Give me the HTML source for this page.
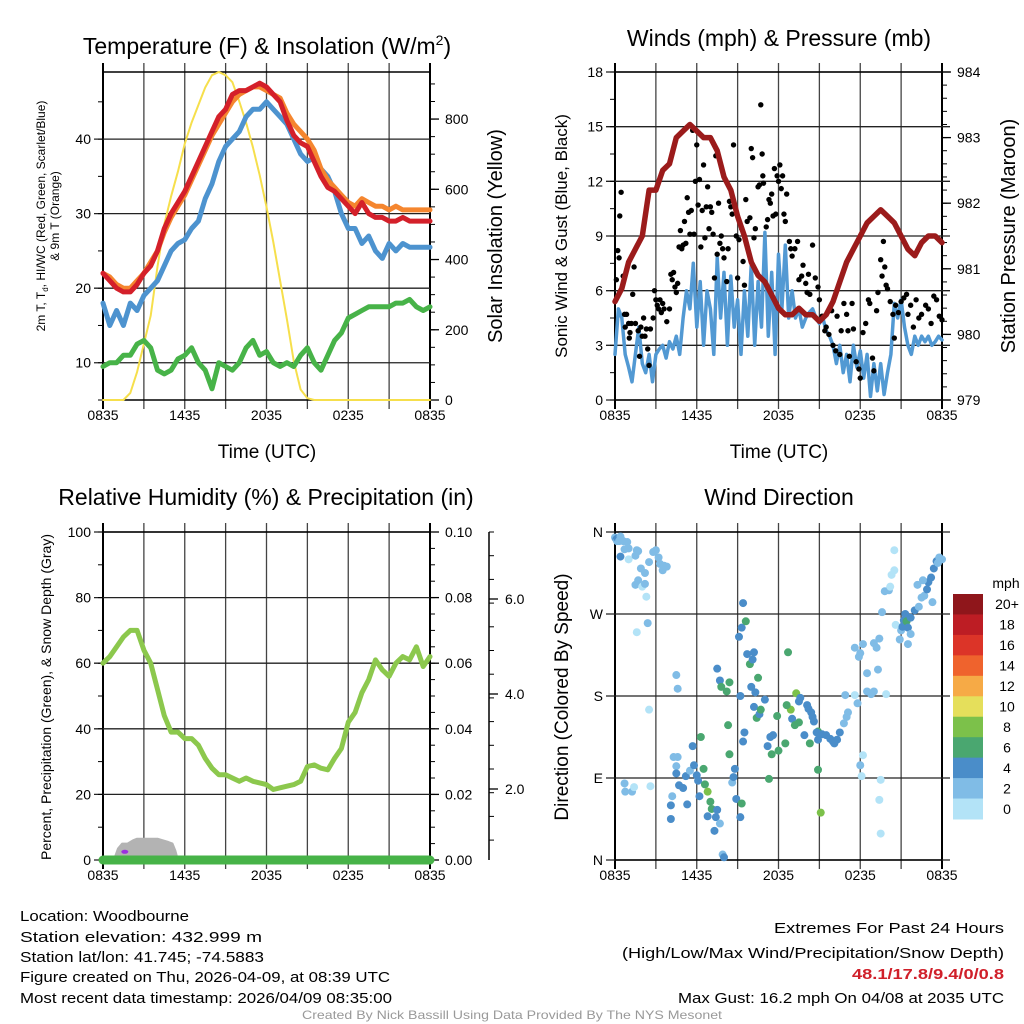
<!DOCTYPE html>
<html><head><meta charset="utf-8"><title>Mesonet Meteogram</title>
<style>
html,body{margin:0;padding:0;background:#fff;}
svg{display:block;font-family:"Liberation Sans",sans-serif;}
</style></head>
<body>
<svg id="chart" width="1024" height="1024" viewBox="0 0 1024 1024" xmlns="http://www.w3.org/2000/svg">
<rect width="1024" height="1024" fill="#fff"/>
<!-- titles -->
<text x="267" y="54" font-size="23" text-anchor="middle">Temperature (F) &amp; Insolation (W/m<tspan font-size="14" dy="-9">2</tspan><tspan dy="9">)</tspan></text>
<text x="779" y="46" font-size="23" text-anchor="middle">Winds (mph) &amp; Pressure (mb)</text>
<text x="266" y="505" font-size="23" text-anchor="middle">Relative Humidity (%) &amp; Precipitation (in)</text>
<text x="779" y="505" font-size="23" text-anchor="middle">Wind Direction</text>
<!-- axis titles -->
<text x="267" y="458" font-size="19" text-anchor="middle">Time (UTC)</text>
<text x="779" y="458" font-size="19" text-anchor="middle">Time (UTC)</text>
<text x="45" y="216" font-size="12" text-anchor="middle" transform="rotate(-90 45 216)">2m T, T<tspan font-size="8" dy="3">d</tspan><tspan dy="-3">, HI/WC (Red, Green, Scarlet/Blue)</tspan></text>
<text x="59" y="216" font-size="12" text-anchor="middle" transform="rotate(-90 59 216)">&amp; 9m T (Orange)</text>
<text x="502" y="236" font-size="20" text-anchor="middle" transform="rotate(-90 502 236)">Solar Insolation (Yellow)</text>
<text x="567" y="236" font-size="17" text-anchor="middle" transform="rotate(-90 567 236)">Sonic Wind &amp; Gust (Blue, Black)</text>
<text x="1015" y="236" font-size="20" text-anchor="middle" transform="rotate(-90 1015 236)">Station Pressure (Maroon)</text>
<text x="51" y="697" font-size="14" text-anchor="middle" transform="rotate(-90 51 697)">Percent, Precipitation (Green), &amp; Snow Depth (Gray)</text>
<text x="568" y="697" font-size="19" text-anchor="middle" transform="rotate(-90 568 697)">Direction (Colored By Speed)</text>
<!-- footer text -->
<g font-size="15">
<text x="20" y="921" textLength="169" lengthAdjust="spacingAndGlyphs">Location: Woodbourne</text>
<text x="20" y="942" textLength="242" lengthAdjust="spacingAndGlyphs">Station elevation: 432.999 m</text>
<text x="20" y="962" textLength="244" lengthAdjust="spacingAndGlyphs">Station lat/lon: 41.745; -74.5883</text>
<text x="20" y="982" textLength="370" lengthAdjust="spacingAndGlyphs">Figure created on Thu, 2026-04-09, at 08:39 UTC</text>
<text x="20" y="1003" textLength="372" lengthAdjust="spacingAndGlyphs">Most recent data timestamp: 2026/04/09 08:35:00</text>
</g>
<g font-size="15">
<text x="774" y="933" textLength="230" lengthAdjust="spacingAndGlyphs">Extremes For Past 24 Hours</text>
<text x="622" y="958" textLength="382" lengthAdjust="spacingAndGlyphs">(High/Low/Max Wind/Precipitation/Snow Depth)</text>
<text x="852" y="979" textLength="152" lengthAdjust="spacingAndGlyphs" fill="#d0202a" font-weight="bold">48.1/17.8/9.4/0/0.8</text>
<text x="678" y="1003" textLength="326" lengthAdjust="spacingAndGlyphs">Max Gust: 16.2 mph On 04/08 at 2035 UTC</text>
</g>
<text x="302" y="1019" font-size="12" fill="#999" textLength="420" lengthAdjust="spacingAndGlyphs">Created By Nick Bassill Using Data Provided By The NYS Mesonet</text>
</svg>
<script>
// ---------------- DATA ----------------
const xTickLabels = ['0835','1435','2035','0235','0835'];
const xTickHours = [0,6,12,18,24];
// half-hourly (49 values, 0..24h)
const tempRed = [22,21,20,19.5,19.5,20.5,22,23,25,28,30,31.5,33,35,37,39,41,43,44,46,46.5,46.5,47,47.5,47,46,45,42.5,40.5,39.5,39,37,35,33.5,33,32,31,30,31.5,30,29.5,29.5,29,29,29.5,29,29,29,29];
const tempOrange = [22,21.5,20.5,20,20,21,22,23.5,25,27.5,29.5,31,32.5,34.5,36.5,38.5,40.5,42,43.5,45,46,46.5,47,47,46.5,46,45.5,43.5,42,41,40,38.5,36,34.5,33.5,32.5,31.5,31,32,31.5,31,31,30.5,31,30.5,30.5,30.5,30.5,30.5];
const tempBlue = [18,15,17,15,18,17,19,20,21,23,25,26,26.5,28,29,32,34,37,39,40,41,43,44,44,45,44,43,42,40,38,37,37.5,36,35,33,30,28,28,26,27,25,24,26,25,26,25.5,25.5,25.5,25.5];
const dewpoint = [9.5,10,10,11,11,12.5,13,12,9,8.5,9,10.5,11,12,10,9,6.5,10,9.5,9,10,12,13,11,11.5,10,9.5,10,9.5,11,12,10,9,11,13,14,16,16.5,17,17.5,17.5,17.5,17.5,18,18,18.5,17.5,17,17.5];
const solar = [0,0,0,0,20,80,160,240,380,500,580,650,730,790,840,890,925,934,925,905,850,790,720,640,550,450,340,230,110,30,5,0,0,0,0,0,0,0,0,0,0,0,0,0,0,0,0,0,0];
const pressure = [980.5,980.7,981.1,981.3,981.5,982.2,982.2,982.5,982.6,983.0,983.1,983.2,983.1,983.0,983.0,982.8,982.4,982.2,981.8,981.5,981.1,980.9,980.8,980.6,980.4,980.3,980.3,980.4,980.3,980.3,980.2,980.3,980.5,980.8,981.1,981.3,981.5,981.7,981.8,981.9,981.8,981.7,981.5,981.3,981.2,981.4,981.5,981.5,981.4];
const relHum = [60,62,65,68,70,70,64,60,52,44,39,39,37,37,35,31,28,26,26,25,24,25,24,23.5,23,21.5,22,22.5,23,24,28.5,29,28,27.5,31,34,42,45,51,55,61,58,56,60,62,61,65,59,62];
// quarter-hourly (97 values)
const windSpeed = [2.5,5,4.5,2.5, 1.8,1,2.5,4, 2,1.5,2.5,1, 2.5,2.8,3,2.3, 3.2,2.8,3.5,2.5, 4.5,6,5,7.5, 4,6.5,3,6, 5,2.5,7.8,4.5, 7,3,6.8,4, 5.5,2.5,6,3.5, 7.5,3,6.5,4, 9.2,3.5,7,2.5, 8,5,8.5,4.5, 6,4.5,5,4, 4.5,4.8,5,4.5, 4.2,4.5,3.8,3.5, 3,2,3,1.5, 2.5,1,3,1.8, 2.7,1.2,2.5,0.2, 2,0.5,2,0.3, 1.5,2.5,5.3,4.5, 5.5,4,3,2.5, 3.5,3,3.5,3.2, 3.5,3,3.2,3.5, 3.3];
const gustHours = [0.1,0.2,0.3,0.35,0.45,0.6,0.7,0.75,0.85,1,1.05,1.1,1.2,1.3,1.4,1.5,1.7,1.8,1.9,2.0,2.1,2.2,2.3,2.4,2.5,2.6,2.8,2.9,3.0,3.1,3.2,3.3,3.4,3.5,3.6,3.8,4.0,4.1,4.2,4.3,4.4,4.5,4.6,4.7,4.8,4.9,5.0,5.1,5.2,5.3,5.4,5.5,5.6,5.7,5.8,5.9,6.0,6.1,6.2,6.3,6.4,6.5,6.6,6.7,6.8,6.9,7.0,7.1,7.2,7.3,7.4,7.5,7.6,7.7,7.8,7.9,8.0,8.2,8.3,8.4,8.5,8.6,8.7,8.9,9.0,9.1,9.3,9.4,9.5,9.6,9.7,9.9,10.0,10.1,10.2,10.3,10.5,10.6,10.7,10.8,10.85,10.9,11.1,11.2,11.3,11.4,11.5,11.6,11.7,11.8,11.9,12.0,12.1,12.2,12.3,12.4,12.5,12.6,12.8,12.9,13.0,13.2,13.4,13.5,13.7,13.8,14.0,14.1,14.2,14.3,14.5,14.7,14.9,15.0,15.2,15.4,15.5,15.7,15.9,16.0,16.2,16.3,16.5,16.6,16.8,17.0,17.1,17.2,17.4,17.5,17.7,17.9,18.0,18.2,18.4,18.6,18.7,18.9,19.0,19.2,19.3,19.5,19.6,19.7,19.8,19.9,20.0,20.2,20.4,20.5,20.6,20.8,21.0,21.2,21.4,21.5,21.7,21.9,22.1,22.3,22.5,22.8,23.0,23.2,23.4,23.6,23.8,24];
const gustValues = [6.6,8.2,7.8,10.1,11.4,6.8,4.7,4.0,4.7,4.2,3.4,3.7,4.2,5.8,7.3,4.2,3.8,2.4,4.0,3.5,4.5,3.5,3.9,2.8,1.9,3.9,4.5,6.0,5.5,5.2,5.0,5.5,4.8,5.3,5.0,4.3,5.0,6.9,6.6,7.0,6.2,5.9,6.4,8.4,9.3,8.3,8.5,9.8,8.6,11.1,10.3,9.1,10.4,14.8,9.1,12.0,14.0,10.7,12.1,8.4,10.4,12.9,8.9,10.6,11.7,9.4,10.6,10.3,9.1,6.7,13.4,8.0,10.8,8.6,9.0,8.3,7.8,6.5,8.3,10.9,10.6,10.2,14.0,9.0,6.7,8.8,9.4,7.6,6.3,11.0,9.8,10.0,13.8,13.3,8.9,9.4,11.7,11.8,16.2,13.5,12.3,11.9,9.5,9.9,11.0,10.8,11.3,10.1,12.7,10.2,12.3,12.0,12.9,11.6,12.3,10.2,9.8,11.3,8.7,8.3,7.9,8.3,8.7,6.6,6.8,7.4,6.4,5.9,6.9,5.8,8.5,6.7,6.2,5.5,4.6,3.8,4.0,3.6,4.9,3.0,2.7,4.6,2.5,3.8,5.3,4.7,3.8,2.4,5.3,3.9,2.1,1.7,1.2,3.7,4.2,5.5,5.3,2.3,1.6,4.9,5.9,7.7,6.8,8.7,7.3,6.3,6.1,5.4,4.7,3.4,5.2,4.8,5.4,5.6,5.8,4.7,5.2,4.0,5.5,4.5,4.7,5.2,5.0,4.2,5.7,5.5,4.6,4.4];
// wind direction scatter
const dirHours = [0,0.1,0.15,0.2,0.3,0.4,0.5,0.6,0.7,0.9,1.0,0.4,1.0,1.5,1.6,1.7,1.5,1.7,1.9,2.0,2.2,2.3,2.2,2.5,2.8,3.0,3.2,3.3,3.5,3.6,3.8,2.4,1.6,0.7,0.75,1.25,1.4,2.6,2.5,4.5,4.6,4.3,4.5,4.6,4.1,4.1,4.2,4.5,4.7,5.0,5.2,5.3,5.5,5.7,5.8,6.0,6.1,6.2,6.3,6.5,6.6,6.8,7.0,7.1,6.8,7.4,7.5,7.7,7.3,7.9,8.0,7.5,7.7,7.8,8.2,8.4,8.3,8.4,8.8,8.9,8.6,8.7,9.2,9.3,9.2,9.4,9.5,9.1,9.3,9.4,9.6,9.7,9.9,10.1,10.2,10.0,10.2,10.4,10.5,10.3,10.6,10.7,11.0,11.2,11.5,11.6,11.9,12.0,11.3,11.4,12.7,12.9,13.0,13.2,13.5,13.9,14.3,14.9,14.9,15.1,12.5,13.3,13.6,12.6,13.5,14.1,14.2,14.4,14.5,14.6,14.8,14.9,15.2,15.5,15.8,16.0,16.1,16.3,16.5,16.8,17.0,17.1,16.9,17.6,17.6,17.9,18.0,18.2,18.5,18.5,18.8,19.0,19.0,19.2,19.3,18.2,18.1,18.0,17.8,19.4,19.6,19.8,20.1,20.2,20.3,20.5,20.5,19.9,19.5,19.4,19.5,20.6,20.9,21.0,21.1,21.2,21.3,21.4,21.5,21.7,22.0,22.2,22.3,22.5,22.7,22.9,23.0,23.2,23.4,23.6,23.8,24.0,23.7,23.3,21.7,21.5,22.6];
const dirDegrees = [354,352,350,353,350,355,351,350,341,349,342,333,330,334,340,339,302,307,320,300,303,289,315,327,338,340,332,325,318,323,322,260,250,84,75,75,80,81,165,103,113,113,203,188,60,45,70,95,82,79,92,61,98,125,104,93,87,70,135,100,83,75,64,56,48,47,55,40,32,6,3,210,197,190,185,195,148,116,100,67,85,91,47,62,180,130,140,245,255,282,262,226,215,220,228,190,168,156,200,184,160,165,176,125,116,137,158,120,89,135,228,165,155,148,151,137,128,141,99,52,128,183,178,170,174,170,166,162,157,152,140,132,138,137,133,130,128,132,140,150,157,162,181,181,233,223,227,237,185,205,182,185,238,233,209,115,92,104,172,243,272,295,296,300,313,340,318,182,88,66,29,258,242,252,256,263,270,262,255,266,274,302,278,288,290,297,305,310,320,328,332,330,326,283,248,237,307];
const dirSpeeds = [3,4,3,4,3,2,2,3,2,2,2,4,1,3,2,2,2,3,2,1,2,1,2,2,2,2,2,3,2,2,2,3,0,2,2,2,1,1,1,2,2,2,2,2,4,4,2,4,4,4,4,4,3,4,4,4,4,4,6,6,6,8,6,6,4,4,4,2,4,2,4,4,4,6,6,6,6,6,4,4,2,4,4,6,4,4,4,4,4,4,6,4,6,4,4,4,4,6,6,4,4,6,4,4,6,4,6,6,6,4,6,8,4,6,6,4,6,6,6,8,6,8,4,6,4,4,4,4,4,4,4,4,4,4,4,4,4,4,4,2,2,2,2,0,2,2,2,2,2,2,2,2,2,2,2,1,1,2,2,2,2,2,2,1,1,1,1,1,1,1,1,1,3,3,4,4,4,6,4,4,4,3,2,2,3,4,4,4,4,4,2,2,2,2,2,2,2];
// snow depth (hour, percent-axis units) and precip
const snowHours = [0.8,1.1,1.4,1.8,2.2,2.5,3.0,3.5,4.0,4.4,4.8,5.1,5.3,5.5];
const snowDepth = [0,3.5,5,5,6,6.5,6.5,6.5,6.5,6,5.5,5,3,0];
const precip = [0,0];
const speedBinLabels = ['0','2','4','6','8','10','12','14','16','18','20+'];
const speedBinColors = ['#b3e3f7','#80bce6','#4a8dc9','#4aa770','#7cc14a','#e5df5b','#f6aa46','#ef632d','#dc3428','#bd1d24','#8f161b'];

// ---------------- HELPERS ----------------
const NS='http://www.w3.org/2000/svg';
const svg=document.getElementById('chart');
function mk(tag,parent){const e=document.createElementNS(NS,tag);(parent||svg).appendChild(e);return e;}
function at(e,o){for(const k in o)e.setAttribute(k,o[k]);return e;}
function panel(x0,y0){return {x0:x0,x1:x0+327,y0:y0,y1:y0+328};}
function xScale(P,h){return P.x0+h/24*(P.x1-P.x0);}
function yScale(P,v,lo,hi){return P.y1-(v-lo)/(hi-lo)*(P.y1-P.y0);}
function hoursFor(n){const a=[];for(let i=0;i<n;i++)a.push(i*24/(n-1));return a;}

function frame(P,name,yMajor,lo,hi,yLabels,rightExt){
  const g=mk('g');
  
  
  for(let i=0;i<=8;i++){
    const x=P.x0+i*(P.x1-P.x0)/8;
    const l=mk('line',g);
    at(l,{x1:x,x2:x,y1:P.y0-9,y2:P.y1+9,stroke:(i==0||i==8)?'#000':'#444','stroke-width':(i==0||i==8)?2:1.3});
  }
  yMajor.forEach((v,k)=>{
    const y=yScale(P,v,lo,hi);
    const l=mk('line',g);
    at(l,{x1:P.x0-9,x2:P.x1+rightExt,y1:y,y2:y,stroke:'#222','stroke-width':1.3});
    const t=mk('text');
    
    
    at(t,{x:P.x0-12,y:y+5,'font-size':14,'text-anchor':'end'});
    t.textContent=yLabels[k];
  });
  const b=mk('line',g);
  at(b,{x1:P.x0,x2:P.x1,y1:P.y1,y2:P.y1,stroke:'#000','stroke-width':1.5});
  const tp=mk('line',g);
  at(tp,{x1:P.x0,x2:P.x1,y1:P.y0,y2:P.y0,stroke:'#000','stroke-width':1.5});
  xTickHours.forEach((h,k)=>{
    const t=mk('text');
    
    
    at(t,{x:xScale(P,h),y:P.y1+20,'font-size':14,'text-anchor':'middle'});
    t.textContent=xTickLabels[k];
  });
}
function minorTicks(P,side,lo,hi,step,len){
  const g=mk('g');
  for(let v=lo;v<=hi+1e-9;v+=step){
    const y=yScale(P,v,lo,hi);
    const l=mk('line',g);
    const x=side<0?P.x0:P.x1;
    at(l,{x1:x,x2:x+side*len,y1:y,y2:y,stroke:'#000','stroke-width':1});
  }
}
function rightLabels(P,vals,lo,hi,fmt,name){
  vals.forEach(v=>{
    const y=yScale(P,v,lo,hi);
    const l=mk('line');
    at(l,{x1:P.x1,x2:P.x1+9,y1:y,y2:y,stroke:'#000','stroke-width':1.3});
    const t=mk('text');
    
    
    at(t,{x:P.x1+15,y:y+5,'font-size':14});
    t.textContent=fmt(v);
  });
}
function linePath(P,hours,vals,lo,hi){
  return hours.map((h,i)=>(i?'L':'M')+xScale(P,h).toFixed(1)+' '+yScale(P,Math.max(lo,Math.min(hi,vals[i])),lo,hi).toFixed(1)).join(' ');
}
function series(P,hours,vals,lo,hi,color,w,name){
  const p=mk('path');
  
  
  at(p,{d:linePath(P,hours,vals,lo,hi),fill:'none',stroke:color,'stroke-width':w,'stroke-linejoin':'round','stroke-linecap':'round'});
  return p;
}

// ---------------- TEMPERATURE PANEL ----------------
const PT=panel(103,72);
frame(PT,'temp',[10,20,30,40],5,49,['10','20','30','40'],0);
minorTicks(PT,-1,5,49,5,5);
minorTicks(PT,1,0,934,50,5);
rightLabels(PT,[0,200,400,600,800],0,934,v=>String(v),'solar');
const h49=hoursFor(49);
series(PT,h49,solar,0,934,'#f6df4c',2,'solar-insolation-line');
series(PT,h49,dewpoint,5,49,'#47b348',5,'dewpoint-line');
series(PT,h49,tempBlue,5,49,'#4d93cf',5,'heat-index-windchill-line');
series(PT,h49,tempOrange,5,49,'#f5862f',5,'temperature-9m-line');
series(PT,h49,tempRed,5,49,'#d4202a',5,'temperature-2m-line');

// ---------------- WIND PANEL ----------------
const PW=panel(615,72);
frame(PW,'wind',[0,3,6,9,12,15,18],0,18,['0','3','6','9','12','15','18'],8);
minorTicks(PW,-1,0,18,1.5,5);
minorTicks(PW,1,979,984,0.2,5);
rightLabels(PW,[979,980,981,982,983,984],979,984,v=>String(v),'pressure');
series(PW,hoursFor(97),windSpeed,0,18,'#5299d3',3.5,'sonic-wind-line');
gustHours.forEach((h,i)=>{
  const c=mk('circle');
  
  
  at(c,{cx:xScale(PW,h),cy:yScale(PW,gustValues[i],0,18),r:2.7,fill:'#000'});
});
series(PW,h49,pressure,979,984,'#9b1b1b',5.5,'pressure-line');

// ---------------- RH PANEL ----------------
const PR=panel(103,532);
frame(PR,'rh',[0,20,40,60,80,100],0,100,['0','20','40','60','80','100'],0);
minorTicks(PR,-1,0,100,10,5);
minorTicks(PR,1,0,100,5,5);
rightLabels(PR,[0,20,40,60,80,100],0,100,v=>(v/1000).toFixed(2),'precip');
(function(){
  const ax=mk('line');
  
  
  at(ax,{x1:489,x2:489,y1:PR.y0,y2:PR.y1,stroke:'#000','stroke-width':1.5});
  for(let k=0;k<14;k++){
    const y=PR.y0+k*23.7;
    const l=mk('line');
    at(l,{x1:489,x2:494,y1:y,y2:y,stroke:'#000','stroke-width':1});
  }
  [['6.0',599],['4.0',694],['2.0',789]].forEach(a=>{
    const l=mk('line');
    at(l,{x1:489,x2:498,y1:a[1],y2:a[1],stroke:'#000','stroke-width':1.3});
    const t=mk('text');
    
    
    at(t,{x:505,y:a[1]+5,'font-size':14});
    t.textContent=a[0];
  });
})();
(function(){
  const d=linePath(PR,snowHours,snowDepth,0,100)+' Z';
  const p=mk('path');
  
  
  at(p,{d:d,fill:'#b3b3b3',stroke:'#b3b3b3','stroke-width':2,'stroke-linejoin':'round'});
  const c=mk('ellipse');
  
  
  at(c,{cx:xScale(PR,1.6),cy:yScale(PR,2.5,0,100),rx:3.5,ry:2,fill:'#9b30e0'});
})();
series(PR,[0,24],precip,0,100,'#47b348',9,'precipitation-line');
series(PR,h49,relHum,0,100,'#8cc84d',5,'relative-humidity-line');

// ---------------- WIND DIRECTION PANEL ----------------
const PD=panel(615,532);
frame(PD,'direction',[0,90,180,270,360],0,360,['N','E','S','W','N'],8);
minorTicks(PD,-1,0,360,45,0);
dirHours.forEach((h,i)=>{
  const bin=Math.min(10,Math.floor(dirSpeeds[i]/2));
  const c=mk('circle');
  
  
  at(c,{cx:xScale(PD,h),cy:yScale(PD,dirDegrees[i],0,360),r:4,fill:speedBinColors[bin]});
});
// colorbar
(function(){
  const t=mk('text');
  
  
  at(t,{x:1006,y:588,'font-size':14,'text-anchor':'middle'});
  t.textContent='mph';
  const top=594,bh=(819-594)/11;
  for(let k=0;k<11;k++){
    const idx=10-k;
    const r=mk('rect');
    
    
    at(r,{x:953,y:top+k*bh,width:30,height:bh+0.5,fill:speedBinColors[idx]});
    const l=mk('text');
    
    
    at(l,{x:1007,y:top+k*bh+bh/2+5,'font-size':14,'text-anchor':'middle'});
    l.textContent=speedBinLabels[idx];
  }
})();
</script>
</body></html>
